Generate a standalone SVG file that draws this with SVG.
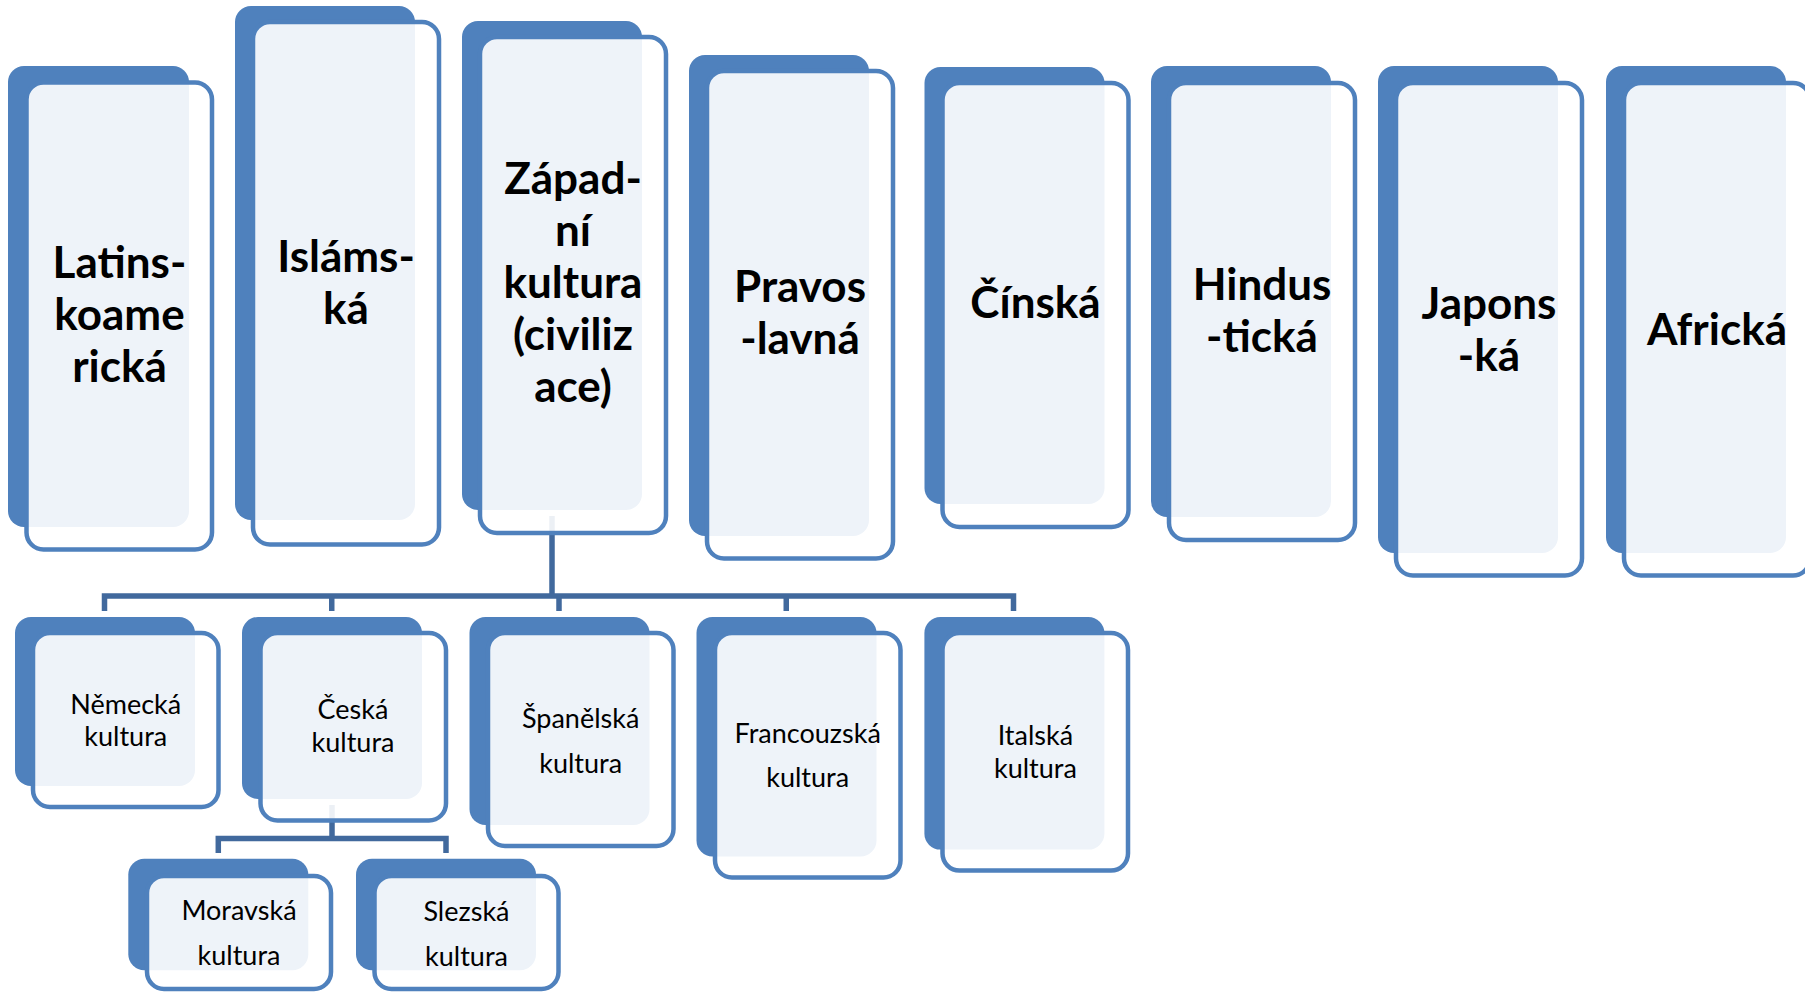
<svg xmlns="http://www.w3.org/2000/svg" width="1805" height="992" viewBox="0 0 1805 992">
<style>
.back{fill:#4F81BD}
.front{fill:#FFFFFF;fill-opacity:0.9;stroke:#4F81BD;stroke-width:4.5}
.t1{font-family:Lato,"Open Sans","DejaVu Sans",sans-serif;font-weight:bold;font-size:44px;text-anchor:middle;fill:#000}
.t2{font-family:Lato,"Open Sans","DejaVu Sans",sans-serif;font-size:27px;text-anchor:middle;fill:#000}
.conn{stroke:#41699D;stroke-width:5.5;fill:none}
</style>
<rect width="1805" height="992" fill="#FFFFFF"/>
<g id="connectors">
<path class="conn" d="M552,516 V596"/>
<path class="conn" d="M104.5,611 V596 H1013.5 V611"/>
<path class="conn" d="M331.75,596 V611"/>
<path class="conn" d="M559,596 V611"/>
<path class="conn" d="M786.25,596 V611"/>
<path class="conn" d="M332,805 V838.5"/>
<path class="conn" d="M218.3,853 V838.5 H446 V853"/>
</g>
<g id="n-latinskoamericka">
<rect class="back" x="8" y="66" width="181" height="461" rx="16"/>
<rect class="front" x="26.5" y="82.5" width="185.5" height="467" rx="17"/>
<text class="t1" x="119.5" y="278">Latins-</text>
<text class="t1" x="119.5" y="330">koame</text>
<text class="t1" x="119.5" y="382">rická</text>
</g>
<g id="n-islamska">
<rect class="back" x="235" y="6" width="180" height="514" rx="16"/>
<rect class="front" x="253" y="22" width="186" height="522.5" rx="17"/>
<text class="t1" x="346" y="272">Isláms-</text>
<text class="t1" x="346" y="324">ká</text>
</g>
<g id="n-zapadni">
<rect class="back" x="462" y="21" width="180" height="489" rx="16"/>
<rect class="front" x="480" y="37" width="186" height="496" rx="17"/>
<text class="t1" x="573" y="194">Západ-</text>
<text class="t1" x="573" y="246">ní</text>
<text class="t1" x="573" y="298">kultura</text>
<text class="t1" x="573" y="350">(civiliz</text>
<text class="t1" x="573" y="402">ace)</text>
</g>
<g id="n-pravoslavna">
<rect class="back" x="689" y="55" width="180" height="481" rx="16"/>
<rect class="front" x="707" y="71" width="186" height="487.5" rx="17"/>
<text class="t1" x="800" y="302">Pravos</text>
<text class="t1" x="800" y="354">-lavná</text>
</g>
<g id="n-cinska">
<rect class="back" x="924.5" y="67" width="180" height="437" rx="16"/>
<rect class="front" x="942.5" y="83" width="186" height="444" rx="17"/>
<text class="t1" x="1035.5" y="318">Čínská</text>
</g>
<g id="n-hindusticka">
<rect class="back" x="1151" y="66" width="180" height="451" rx="16"/>
<rect class="front" x="1169" y="83" width="186" height="457" rx="17"/>
<text class="t1" x="1262" y="300">Hindus</text>
<text class="t1" x="1262" y="352">-tická</text>
</g>
<g id="n-japonska">
<rect class="back" x="1378" y="66" width="180" height="487" rx="16"/>
<rect class="front" x="1396" y="83" width="186" height="492.5" rx="17"/>
<text class="t1" x="1489" y="319">Japons</text>
<text class="t1" x="1489" y="371">-ká</text>
</g>
<g id="n-africka">
<rect class="back" x="1606" y="66" width="180" height="487" rx="16"/>
<rect class="front" x="1624" y="83" width="186" height="492.5" rx="17"/>
<text class="t1" x="1717" y="344.5">Africká</text>
</g>
<g id="n-nemecka">
<rect class="back" x="15" y="617" width="180" height="169" rx="16"/>
<rect class="front" x="33" y="633" width="185.5" height="174" rx="17"/>
<text class="t2" x="125.75" y="714">Německá</text>
<text class="t2" x="125.75" y="746">kultura</text>
</g>
<g id="n-ceska">
<rect class="back" x="242" y="617" width="180" height="182" rx="16"/>
<rect class="front" x="260.5" y="633" width="185.5" height="187.5" rx="17"/>
<text class="t2" x="353" y="719">Česká</text>
<text class="t2" x="353" y="752">kultura</text>
</g>
<g id="n-spanelska">
<rect class="back" x="469.5" y="617" width="180" height="208" rx="16"/>
<rect class="front" x="488" y="633" width="185.5" height="213" rx="17"/>
<text class="t2" x="580.7" y="727.6">Španělská</text>
<text class="t2" x="580.7" y="772.5">kultura</text>
</g>
<g id="n-francouzska">
<rect class="back" x="696.5" y="617" width="180" height="239.5" rx="16"/>
<rect class="front" x="715" y="633" width="185.5" height="244.5" rx="17"/>
<text class="t2" x="807.7" y="742.5">Francouzská</text>
<text class="t2" x="807.7" y="787.4">kultura</text>
</g>
<g id="n-italska">
<rect class="back" x="924.4" y="617" width="180" height="232.6" rx="16"/>
<rect class="front" x="942.5" y="633" width="185.5" height="237.6" rx="17"/>
<text class="t2" x="1035.4" y="744.8">Italská</text>
<text class="t2" x="1035.4" y="778">kultura</text>
</g>
<g id="n-moravska">
<rect class="back" x="128.3" y="858.7" width="180" height="111.6" rx="16"/>
<rect class="front" x="147" y="876" width="184" height="113" rx="17"/>
<text class="t2" x="239" y="920.3">Moravská</text>
<text class="t2" x="239" y="965.3">kultura</text>
</g>
<g id="n-slezska">
<rect class="back" x="356" y="858.7" width="180" height="111.6" rx="16"/>
<rect class="front" x="374.5" y="876" width="184" height="113" rx="17"/>
<text class="t2" x="466.5" y="921">Slezská</text>
<text class="t2" x="466.5" y="966">kultura</text>
</g>
</svg>
